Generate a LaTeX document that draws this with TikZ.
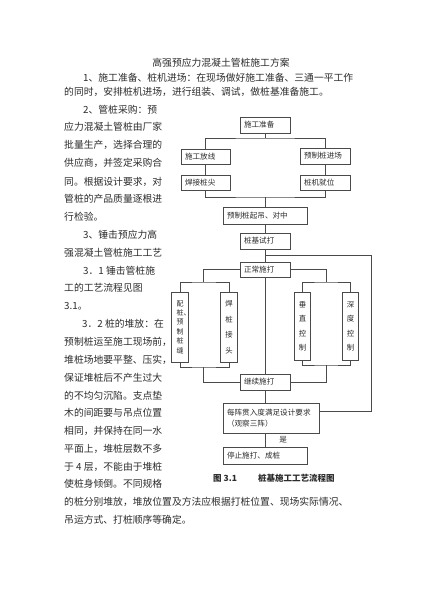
\documentclass[tikz,border=0pt]{standalone}
\usepackage{fontspec}
\setmainfont{Noto Sans CJK SC}
\usepackage{tikz}
\usetikzlibrary{
  arrows.meta,
  shapes,
  positioning,
  calc
}
\definecolor{inkT}{HTML}{2B2B2B}
\definecolor{lineG}{HTML}{4A4A4A}

\tikzset{
  bodytext/.style={anchor=west, inner sep=0pt, text=inkT, font=\fontsize{9.8}{12}\selectfont},
  flowbox/.style={draw=lineG, line width=0.8pt, fill=white, text=inkT, font=\fontsize{7.6}{11}\selectfont,
    inner xsep=4pt, inner ysep=0pt, align=left, minimum height=16pt},
  vbox/.style={draw=lineG, line width=0.8pt, fill=white, text=inkT, inner sep=0pt, align=center,
    text width=8pt, minimum width=16.5pt},
  link/.style={draw=lineG, line width=0.8pt},
  captext/.style={anchor=west, inner sep=0pt, text=inkT, font=\fontsize{8.5}{10}\selectfont\bfseries}
}

\begin{document}
\begin{tikzpicture}[x=1pt, y=-1pt]
  \useasboundingbox (0,0) rectangle (423,600);

  % text of the page
  \node[bodytext, anchor=center] (title) at (221,63) {高强预应力混凝土管桩施工方案};
  \foreach \x/\y/\txt [count=\i] in {
    83/78/{1、施工准备、桩机进场：在现场做好施工准备、三通一平工作},
    64/92/{的同时，安排桩机进场，进行组装、调试，做桩基准备施工。},
    83/110/{2、管桩采购：预},
    64/127/{应力混凝土管桩由厂家},
    64/145/{批量生产，选择合理的},
    64/163/{供应商，并签定采购合},
    64/182/{同。根据设计要求，对},
    64/199/{管桩的产品质量逐根进},
    64/217/{行检验。},
    83/235/{3、锤击预应力高},
    64/253/{强混凝土管桩施工工艺},
    83/271/{3．1 锤击管桩施},
    64/288/{工的工艺流程见图},
    64/306/{3.1。},
    82/324/{3．2 桩的堆放：在},
    64/342/{预制桩运至施工现场前，},
    64/360/{堆桩场地要平整、压实，},
    64/378/{保证堆桩后不产生过大},
    64/396/{的不均匀沉陷。支点垫},
    64/413/{木的间距要与吊点位置},
    64/431/{相同，并保持在同一水},
    64/449/{平面上，堆桩层数不多},
    64/467/{于 4 层，不能由于堆桩},
    64/484/{使桩身倾倒。不同规格},
    64/502/{的桩分别堆放，堆放位置及方法应根据打桩位置、现场实际情况、},
    64/520/{吊运方式、打桩顺序等确定。}}{
    \node[bodytext] (line\i) at (\x,\y) {\txt};
  }

  % flow chart
  \node[flowbox, text width=42pt] (prep) at (265,125) {施工准备};
  \node[flowbox, text width=41pt, minimum height=15pt] (layout) at (205.5,156.5) {施工放线};
  \node[flowbox, text width=41pt, minimum height=15pt] (weld) at (205.5,182.5) {焊接桩尖};
  \node[flowbox, text width=42pt] (pilein) at (325,156) {预制桩进场};
  \node[flowbox, text width=42pt, minimum height=15pt] (rig) at (325,182.5) {桩机就位};
  \node[flowbox, text width=76pt, minimum height=17pt] (hoist) at (265,215.5) {预制桩起吊、对中};
  \node[flowbox, text width=42pt] (trial) at (265,241) {桩基试打};
  \node[flowbox, text width=42pt, minimum height=15pt] (normal) at (265,269.5) {正常施打};
  \node[vbox, minimum height=70pt, font=\fontsize{7}{9.4}\selectfont] (splice) at (180,327)
    {配\\桩\rlap{、}\\预\\制\\桩\\缝};
  \node[vbox, minimum height=70pt, font=\fontsize{7.4}{15.5}\selectfont] (jointw) at (229,327)
    {焊\\桩\\接\\头};
  \node[vbox, minimum height=68pt, font=\fontsize{7.4}{14.5}\selectfont] (vert) at (302.5,326)
    {垂\\直\\控\\制};
  \node[vbox, minimum height=68pt, font=\fontsize{7.4}{14.5}\selectfont] (depth) at (350.5,326)
    {深\\度\\控\\制};
  \node[flowbox, text width=42pt] (cont) at (265,382) {继续施打};
  \node[flowbox, text width=88pt, minimum height=30pt] (check) at (271,418)
    {每阵贯入度满足设计要求\\（观察三阵）};
  \node[flowbox, text width=76pt, minimum height=17pt] (stop) at (265,455.5) {停止施打、成桩};

  \coordinate (split1) at (265,138);
  \coordinate (merge1) at (265,197);
  \coordinate (retTop) at (265,255);
  \coordinate (retCorner) at (371,411);
  \coordinate (splitL) at (203,282);
  \coordinate (splitR) at (326,282);
  \coordinate (mergeL) at (203,367);
  \coordinate (mergeR) at (326,365);

  \draw[link] (prep.south) -- (split1);
  \draw[link] (layout.north) |- (split1) -| (pilein.north);
  \draw[link] (layout.south) -- (weld.north);
  \draw[link] (pilein.south) -- (rig.north);
  \draw[link] (weld.south) |- (merge1) -| (rig.south);
  \draw[link] (merge1) -- (hoist.north);
  \draw[link] (hoist.south) -- (trial.north);
  \draw[link] (trial.south) -- (normal.north);
  \draw[link] (retTop) -| (retCorner) -- (check.east |- retCorner);
  \draw[link] (normal.west) -| (splitL);
  \draw[link] (splice.north) |- (splitL) -| (jointw.north);
  \draw[link] (normal.east) -| (splitR);
  \draw[link] (vert.north) |- (splitR) -| (depth.north);
  \draw[link] (splice.south) |- (mergeL) -| (jointw.south);
  \draw[link] (mergeL) |- (cont.west);
  \draw[link] (vert.south) |- (mergeR) -| (depth.south);
  \draw[link] (mergeR) |- (cont.east);
  \draw[link] (normal.south) -- (cont.north);
  \draw[link] (cont.south) -- (cont.south |- check.north);
  \draw[link] (stop.north |- check.south) -- node[midway, right=14pt, inner sep=0pt, text=inkT,
    font=\fontsize{7.6}{9}\selectfont] (yes) {是} (stop.north);

  \node[captext] (capnum) at (213,478) {图 3.1};
  \node[captext] (captitle) at (258,478) {桩基施工工艺流程图};
\end{tikzpicture}
\end{document}
